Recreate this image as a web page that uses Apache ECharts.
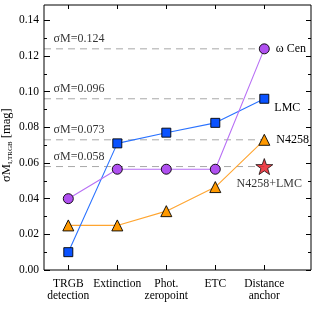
<!DOCTYPE html>
<html>
<head>
<meta charset="utf-8">
<script src="https://cdn.jsdelivr.net/npm/echarts@6/dist/echarts.min.js"></script>
<style>
html,body{margin:0;padding:0;background:#fff;}
#chart{width:315px;height:315px;}
</style>
</head>
<body>
<div id="chart"></div>
<script>
// ---- data ----
const categories = ['TRGB\ndetection', 'Extinction', 'Phot.\nzeropoint', 'ETC', 'Distance\nanchor'];
const omegaCen = [0.040, 0.0565, 0.0565, 0.0565, 0.124];
const lmc = [0.010, 0.071, 0.077, 0.0825, 0.096];
const n4258 = [0.025, 0.025, 0.033, 0.0465, 0.073];
const combinedValue = 0.058;   // N4258+LMC at "Distance anchor"
const sigmaLevels = [0.124, 0.096, 0.073, 0.058];
const yTickStep = 0.02;
const yTickMax = 0.14;

// ---- layout (pixels) ----
const FONT = "'Liberation Serif','DejaVu Serif',serif";
const L = 44, R = 311, T = 5, B = 270;      // frame
const X0PX = 68.3, XSTEP = 49;              // first category px, category spacing
const YTOPPX = 20.3;                        // px of yTickMax
const lastIdx = categories.length - 1;
const XMIN = -(X0PX - L) / XSTEP;
const XMAX = lastIdx + (R - (X0PX + lastIdx * XSTEP)) / XSTEP;
const YMAX = yTickMax * (B - T) / (B - YTOPPX);

const toPairs = arr => arr.map((v, i) => [i, v]);

const chart = echarts.init(document.getElementById('chart'));
const lineW = 1.1;

const mkSeries = (name, vals, symbol, size, fill, lineColor, labelCfg) => {
  const data = toPairs(vals).map((p, i) => {
    if (i === lastIdx && labelCfg) {
      return { value: p, label: Object.assign({ show: true, formatter: name, color: '#000', fontFamily: FONT, fontSize: 12 }, labelCfg) };
    }
    return { value: p };
  });
  return {
    type: 'line', name: name, xAxisIndex: 0, yAxisIndex: 0,
    data: data, symbol: symbol, symbolSize: size, showAllSymbol: true,
    lineStyle: { color: lineColor, width: lineW },
    itemStyle: { color: fill, borderColor: '#000', borderWidth: 0.9 },
    emphasis: { disabled: true }, animation: false, z: 3
  };
};

const starPath = 'path://M0,-10 L2.35,-3.24 L9.51,-3.09 L3.8,1.24 L5.88,8.09 L0,4 L-5.88,8.09 L-3.8,1.24 L-9.51,-3.09 L-2.35,-3.24 Z';

const series = [];
sigmaLevels.forEach(v => {
  series.push({
    type: 'line', xAxisIndex: 0, yAxisIndex: 0,
    data: [[XMIN, v], [lastIdx, v]], symbol: 'none',
    lineStyle: { color: '#a8a8a8', width: 1, type: [7, 5] },
    emphasis: { disabled: true }, animation: false, z: 1, silent: true
  });
});
series.push({
  type: 'scatter', xAxisIndex: 0, yAxisIndex: 0,
  data: sigmaLevels.map(v => [XMIN, v]),
  symbolSize: 1, itemStyle: { color: 'transparent' },
  label: { show: true, position: [10, -15], formatter: p => 'σM=' + p.value[1].toFixed(3),
           color: '#000', fontFamily: FONT, fontSize: 12 },
  emphasis: { disabled: true }, animation: false, z: 1, silent: true
});
series.push(mkSeries('N4258', n4258, 'triangle', 11, '#ff9900', '#ffa530', { position: 'right', distance: 6 }));
series.push(mkSeries('LMC', lmc, 'rect', 9, '#0a52ff', '#2a72ff', { position: [15, 8] }));
series.push(mkSeries('ω Cen', omegaCen, 'circle', 10, '#b050f0', '#b870f5', { position: 'right', distance: 6 }));
series.push({
  type: 'scatter', xAxisIndex: 0, yAxisIndex: 0,
  data: [[lastIdx, combinedValue]], symbol: starPath, symbolSize: [17, 16],
  itemStyle: { color: '#e8141e', borderColor: '#000', borderWidth: 0.9 },
  label: { show: true, position: 'bottom', distance: 3, offset: [5, 0], formatter: 'N4258+LMC',
           color: '#000', fontFamily: FONT, fontSize: 12 },
  emphasis: { disabled: true }, animation: false, z: 5
});

const tickLine = { color: '#000', width: 1 };
const gridBase = { containLabel: false, outerBoundsMode: 'none' };
const option = {
  backgroundColor: '#fff',
  animation: false,
  grid: [
    // 0: frame / data grid
    Object.assign({ left: L, right: 315 - R, top: T, bottom: 315 - B,
      show: true, borderColor: '#000', borderWidth: 1, backgroundColor: 'transparent', z: 10 }, gridBase),
    // 1: x tick grid (categories 0..last span)
    Object.assign({ left: X0PX, right: 315 - (X0PX + lastIdx * XSTEP), top: T, bottom: 315 - B }, gridBase),
    // 2: y tick grid (0..yTickMax span)
    Object.assign({ left: L, right: 315 - R, top: YTOPPX, bottom: 315 - B }, gridBase)
  ],
  xAxis: [
    { type: 'value', gridIndex: 0, min: XMIN, max: XMAX, show: false },
    { type: 'value', gridIndex: 1, position: 'bottom', min: 0, max: lastIdx, interval: 1,
      axisLine: { show: false }, splitLine: { show: false },
      axisTick: { inside: true, length: 5, lineStyle: tickLine },
      axisLabel: { margin: 8, formatter: v => categories[Math.round(v)] || '', color: '#000',
                   fontFamily: FONT, fontSize: 11.5, lineHeight: 12 } },
    { type: 'value', gridIndex: 1, position: 'top', min: 0, max: lastIdx, interval: 1,
      axisLine: { show: false }, splitLine: { show: false },
      axisTick: { inside: true, length: 4, lineStyle: tickLine }, axisLabel: { show: false } },
    { type: 'value', gridIndex: 2, min: 0, max: 1, show: false }
  ],
  yAxis: [
    { type: 'value', gridIndex: 0, min: 0, max: YMAX, show: false },
    { type: 'value', gridIndex: 1, min: 0, max: 1, show: false },
    { type: 'value', gridIndex: 2, position: 'left', min: 0, max: yTickMax, interval: yTickStep,
      axisLine: { show: false }, splitLine: { show: false },
      axisTick: { inside: true, length: 6, lineStyle: tickLine },
      minorTick: { show: true, splitNumber: 2, length: 3, lineStyle: tickLine },
      axisLabel: { margin: 5, formatter: v => v.toFixed(2), color: '#000', fontFamily: FONT, fontSize: 11.5 },
      name: '{a|σM}{b|I,TRGB}{a| [mag]}', nameLocation: 'middle', nameGap: 30, nameRotate: 90,
      nameMoveOverlap: false,
      nameTextStyle: { color: '#000', fontFamily: FONT, rich: {
        a: { fontFamily: FONT, fontSize: 12.5, color: '#000', lineHeight: 14 },
        b: { fontFamily: FONT, fontSize: 7, color: '#000', lineHeight: 8, verticalAlign: 'bottom' } } } },
    { type: 'value', gridIndex: 2, position: 'right', min: 0, max: yTickMax, interval: yTickStep,
      axisLine: { show: false }, splitLine: { show: false },
      axisTick: { inside: true, length: 5, lineStyle: tickLine },
      minorTick: { show: true, splitNumber: 2, length: 3, lineStyle: tickLine },
      axisLabel: { show: false } }
  ],
  series: series
};
chart.setOption(option);
</script>
</body>
</html>
